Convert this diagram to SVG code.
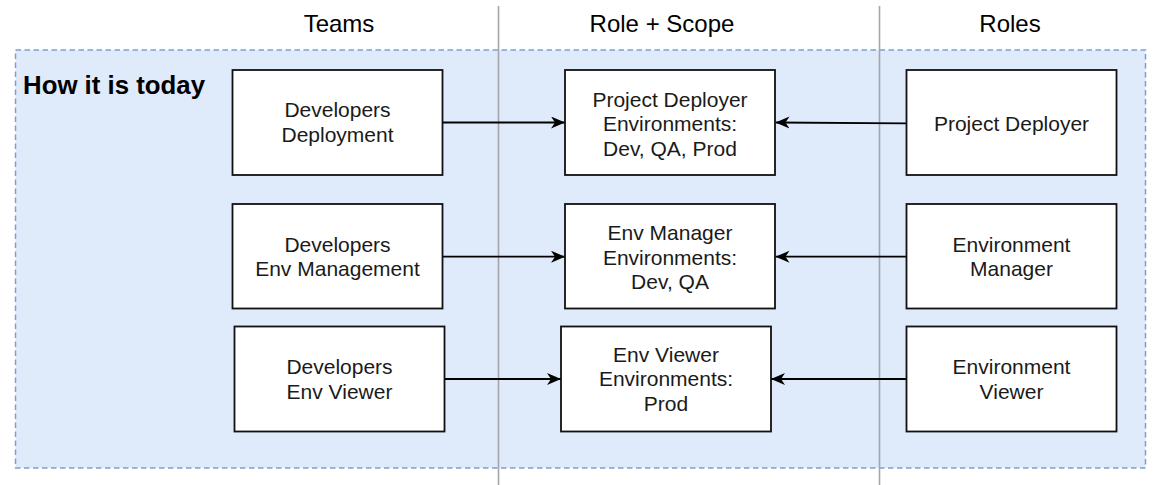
<svg xmlns="http://www.w3.org/2000/svg" width="1160" height="485" viewBox="0 0 1160 485">
  <defs>
    <style>
      .hdr { font-family: "Liberation Sans", Arial, sans-serif; font-size: 24px; fill: #000; text-anchor: middle; }
      .lbl { font-family: "Liberation Sans", Arial, sans-serif; font-size: 21px; fill: #1a1a1a; text-anchor: middle; }
      .ttl { font-family: "Liberation Sans", Arial, sans-serif; font-size: 25.8px; font-weight: bold; fill: #000; }
      .box { fill: #ffffff; stroke: #111111; stroke-width: 1.8; }
      .divider { stroke: #a6a6a6; stroke-width: 1.6; fill: none; }
      .conn { stroke: #000000; stroke-width: 1.8; fill: none; marker-end: url(#arrow); }
    </style>
    <marker id="arrow" markerUnits="userSpaceOnUse" markerWidth="16" markerHeight="14" refX="14" refY="6" orient="auto">
      <path d="M0,0 L14,6 L0,12 L4,6 Z" fill="#000"/>
    </marker>
  </defs>

  <g id="container">
    <rect x="15.5" y="50" width="1130" height="418" fill="#dfeafb" stroke="#7f9fd0" stroke-width="1.5" stroke-dasharray="5.5 3.5"/>
    <text class="ttl" x="23" y="94">How it is today</text>
  </g>

  <g id="dividers">
    <line class="divider" x1="498.5" y1="6" x2="498.5" y2="485"/>
    <line class="divider" x1="879.5" y1="6" x2="879.5" y2="485"/>
  </g>

  <g id="headers">
    <text class="hdr" x="339" y="32">Teams</text>
    <text class="hdr" x="662" y="32">Role + Scope</text>
    <text class="hdr" x="1010" y="32">Roles</text>
  </g>

  <g id="connectors">
    <line class="conn" x1="443" y1="122.5" x2="565" y2="122.5"/>
    <line class="conn" x1="906" y1="123.3" x2="775.5" y2="122.5"/>
    <line class="conn" x1="443" y1="256.7" x2="565" y2="256.7"/>
    <line class="conn" x1="906" y1="256.7" x2="775.5" y2="256.7"/>
    <line class="conn" x1="444.5" y1="379" x2="561" y2="379"/>
    <line class="conn" x1="906" y1="379" x2="771" y2="379"/>
  </g>

  <g id="team-deployment">
    <rect class="box" x="232.5" y="70" width="210" height="105"/>
    <text class="lbl" x="337.5" y="117.2">Developers</text>
    <text class="lbl" x="337.5" y="141.7">Deployment</text>
  </g>
  <g id="team-envmgmt">
    <rect class="box" x="232.5" y="204" width="210" height="104.5"/>
    <text class="lbl" x="337.5" y="251.5">Developers</text>
    <text class="lbl" x="337.5" y="276">Env Management</text>
  </g>
  <g id="team-envviewer">
    <rect class="box" x="234.5" y="326.5" width="210" height="105"/>
    <text class="lbl" x="339.5" y="374">Developers</text>
    <text class="lbl" x="339.5" y="398.5">Env Viewer</text>
  </g>

  <g id="scope-deployer">
    <rect class="box" x="565" y="70" width="210" height="105"/>
    <text class="lbl" x="670" y="106.7">Project Deployer</text>
    <text class="lbl" x="670" y="131.2">Environments:</text>
    <text class="lbl" x="670" y="155.7">Dev, QA, Prod</text>
  </g>
  <g id="scope-envmgr">
    <rect class="box" x="565" y="204" width="210" height="104.5"/>
    <text class="lbl" x="670" y="240">Env Manager</text>
    <text class="lbl" x="670" y="264.5">Environments:</text>
    <text class="lbl" x="670" y="289">Dev, QA</text>
  </g>
  <g id="scope-envviewer">
    <rect class="box" x="561" y="326.5" width="210" height="105"/>
    <text class="lbl" x="666" y="361.7">Env Viewer</text>
    <text class="lbl" x="666" y="386.2">Environments:</text>
    <text class="lbl" x="666" y="410.7">Prod</text>
  </g>

  <g id="role-deployer">
    <rect class="box" x="906.5" y="70" width="210" height="105"/>
    <text class="lbl" x="1011.5" y="130.5">Project Deployer</text>
  </g>
  <g id="role-envmgr">
    <rect class="box" x="906.5" y="204" width="210" height="104.5"/>
    <text class="lbl" x="1011.5" y="251.5">Environment</text>
    <text class="lbl" x="1011.5" y="276">Manager</text>
  </g>
  <g id="role-envviewer">
    <rect class="box" x="906.5" y="326.5" width="210" height="105"/>
    <text class="lbl" x="1011.5" y="374">Environment</text>
    <text class="lbl" x="1011.5" y="398.5">Viewer</text>
  </g>
</svg>
